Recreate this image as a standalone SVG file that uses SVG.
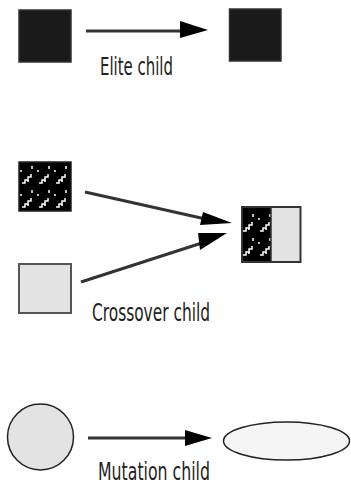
<svg xmlns="http://www.w3.org/2000/svg" width="351" height="486" viewBox="0 0 351 486">
<style>
.blk{fill:#1a1a1a;stroke:#333;stroke-width:1.5}
.lt{fill:#e3e3e3;stroke:#555;stroke-width:2}
.ln{stroke:#333;stroke-width:3;fill:none}
.hd{fill:#000}
.lbl{font-family:"Liberation Sans Narrow","DejaVu Sans Condensed","Liberation Sans",sans-serif;font-stretch:condensed;font-size:24px;fill:#222}
</style>
<defs>
<pattern id="hatch" patternUnits="userSpaceOnUse" width="17" height="24" x="19" y="162">
<rect width="17" height="24" fill="#000"/>
<path d="M3,21 h3 v-3 h3 v-3 h3 v-3 M13,4 v3 M2,8 v2 M8,19 h2" stroke="#fff" stroke-width="1.5" fill="none"/>
</pattern>
</defs>
<g id="elite-parent"><rect class="blk" x="19" y="10" width="52" height="52"/></g>
<g id="elite-child"><rect class="blk" x="229.5" y="9" width="51.5" height="52"/></g>
<g id="cross-parent1"><rect x="19" y="162" width="52" height="49" fill="url(#hatch)" stroke="#222" stroke-width="1.5"/></g>
<g id="cross-parent2"><rect class="lt" x="19" y="264" width="52" height="49"/></g>
<g id="cross-child">
<rect x="242" y="207" width="29" height="55" fill="url(#hatch)"/>
<rect x="271" y="207" width="29.5" height="55" fill="#e3e3e3"/>
<rect x="242" y="207" width="58.5" height="55" fill="none" stroke="#333" stroke-width="2"/>
<line x1="271" y1="207" x2="271" y2="262" stroke="#333" stroke-width="1.5"/>
</g>
<g id="mut-parent"><circle cx="40.5" cy="437" r="33" fill="#e3e3e3" stroke="#222" stroke-width="1.5"/></g>
<g id="mut-child"><ellipse cx="286.5" cy="441" rx="63" ry="19" fill="#f5f5f5" stroke="#222" stroke-width="1.5"/></g>
<g id="connectors">
<line class="ln" x1="86" y1="31" x2="185" y2="31"/>
<polygon class="hd" points="180,21 208,30 180,38"/>
<line class="ln" x1="85" y1="192" x2="210" y2="220"/>
<polygon class="hd" points="203,212 232,223 200,225"/>
<line class="ln" x1="81" y1="282" x2="208" y2="241"/>
<polygon class="hd" points="198,233 227,233 200,250"/>
<line class="ln" x1="88" y1="438" x2="190" y2="438"/>
<polygon class="hd" points="185,430 212,438 185,446"/>
</g>
<text class="lbl" x="100" y="75" textLength="73" lengthAdjust="spacingAndGlyphs">Elite child</text>
<text class="lbl" x="92" y="321" textLength="118" lengthAdjust="spacingAndGlyphs">Crossover child</text>
<text class="lbl" x="98" y="480" textLength="112" lengthAdjust="spacingAndGlyphs">Mutation child</text>
</svg>
